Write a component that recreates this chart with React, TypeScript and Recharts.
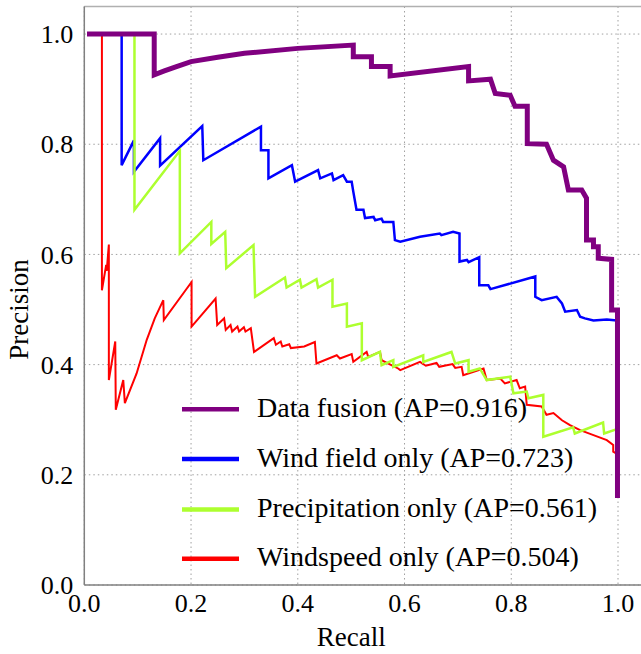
import React from 'react';
import { LineChart, Line, XAxis, YAxis, CartesianGrid, ReferenceLine } from 'recharts';

document.body.style.margin = '0';
document.body.style.overflow = 'hidden';

const seriesNames = [
  'Data fusion (AP=0.916)',
  'Wind field only (AP=0.723)',
  'Precipitation only (AP=0.561)',
  'Windspeed only (AP=0.504)',
];
const seriesColors = ['#800080', '#0000ff', '#adff2f', '#ff0000'];
const seriesWidths = [5, 2.5, 2.5, 2];
const axisTicks = [0, 0.2, 0.4, 0.6, 0.8, 1.0];

// Data fusion
const fusionRecall = [0.005, 0.131, 0.131, 0.15, 0.17, 0.2, 0.25, 0.3, 0.4, 0.504, 0.504, 0.538, 0.538, 0.573, 0.573, 0.72, 0.72, 0.761, 0.77, 0.798, 0.807, 0.83, 0.83, 0.866, 0.879, 0.898, 0.907, 0.932, 0.941, 0.941, 0.954, 0.954, 0.963, 0.963, 0.988, 0.988, 0.999, 0.999];
const fusionPrecision = [1.0, 1.0, 0.926, 0.933, 0.94, 0.95, 0.958, 0.965, 0.974, 0.98, 0.959, 0.959, 0.941, 0.941, 0.924, 0.941, 0.915, 0.918, 0.892, 0.889, 0.869, 0.869, 0.801, 0.8, 0.771, 0.759, 0.717, 0.717, 0.702, 0.626, 0.626, 0.614, 0.614, 0.593, 0.591, 0.499, 0.499, 0.158];

// Wind field only
const windRecall = [0.005, 0.07, 0.07, 0.093, 0.093, 0.142, 0.142, 0.221, 0.223, 0.331, 0.331, 0.345, 0.345, 0.389, 0.395, 0.438, 0.442, 0.464, 0.467, 0.485, 0.492, 0.501, 0.504, 0.51, 0.523, 0.526, 0.542, 0.545, 0.557, 0.56, 0.579, 0.582, 0.592, 0.629, 0.666, 0.669, 0.691, 0.703, 0.703, 0.717, 0.72, 0.74, 0.74, 0.757, 0.761, 0.845, 0.845, 0.857, 0.885, 0.895, 0.901, 0.923, 0.929, 0.938, 0.954, 0.979, 0.998];
const windPrecision = [1.0, 1.0, 0.762, 0.807, 0.75, 0.811, 0.761, 0.833, 0.771, 0.832, 0.789, 0.789, 0.738, 0.762, 0.732, 0.753, 0.738, 0.747, 0.735, 0.744, 0.732, 0.732, 0.714, 0.681, 0.681, 0.666, 0.668, 0.662, 0.665, 0.659, 0.659, 0.626, 0.623, 0.632, 0.638, 0.635, 0.641, 0.638, 0.587, 0.59, 0.586, 0.595, 0.544, 0.544, 0.537, 0.56, 0.523, 0.517, 0.523, 0.511, 0.496, 0.499, 0.487, 0.484, 0.48, 0.482, 0.48];

// Precipitation only
const precipRecall = [0.005, 0.094, 0.094, 0.179, 0.179, 0.238, 0.238, 0.264, 0.266, 0.317, 0.32, 0.376, 0.379, 0.404, 0.407, 0.435, 0.438, 0.465, 0.465, 0.492, 0.492, 0.52, 0.52, 0.554, 0.557, 0.579, 0.579, 0.635, 0.635, 0.688, 0.695, 0.72, 0.72, 0.741, 0.754, 0.798, 0.804, 0.829, 0.832, 0.86, 0.86, 0.916, 0.919, 0.972, 0.974, 0.998];
const precipPrecision = [1.0, 1.0, 0.681, 0.788, 0.602, 0.659, 0.619, 0.641, 0.575, 0.617, 0.523, 0.558, 0.54, 0.554, 0.54, 0.555, 0.54, 0.554, 0.505, 0.511, 0.469, 0.475, 0.408, 0.423, 0.399, 0.408, 0.396, 0.417, 0.405, 0.423, 0.402, 0.408, 0.387, 0.393, 0.372, 0.378, 0.348, 0.351, 0.339, 0.345, 0.269, 0.286, 0.275, 0.295, 0.275, 0.283];

// Windspeed only
const speedRecall = [0.005, 0.033, 0.033, 0.041, 0.042, 0.046, 0.046, 0.058, 0.059, 0.073, 0.076, 0.098, 0.117, 0.132, 0.148, 0.149, 0.201, 0.201, 0.246, 0.249, 0.262, 0.265, 0.274, 0.277, 0.287, 0.29, 0.299, 0.302, 0.312, 0.318, 0.355, 0.359, 0.368, 0.371, 0.384, 0.387, 0.412, 0.432, 0.435, 0.473, 0.479, 0.501, 0.504, 0.529, 0.532, 0.554, 0.557, 0.588, 0.592, 0.629, 0.64, 0.66, 0.665, 0.69, 0.695, 0.707, 0.71, 0.748, 0.754, 0.779, 0.788, 0.81, 0.816, 0.826, 0.829, 0.857, 0.866, 0.879, 0.895, 0.91, 0.929, 0.954, 0.979, 0.991, 0.991, 0.998];
const speedPrecision = [1.0, 1.0, 0.535, 0.581, 0.57, 0.618, 0.372, 0.442, 0.318, 0.372, 0.33, 0.384, 0.445, 0.484, 0.517, 0.481, 0.55, 0.469, 0.52, 0.472, 0.484, 0.463, 0.472, 0.46, 0.469, 0.46, 0.468, 0.46, 0.466, 0.423, 0.448, 0.436, 0.442, 0.433, 0.437, 0.43, 0.433, 0.441, 0.402, 0.417, 0.411, 0.419, 0.405, 0.423, 0.414, 0.423, 0.408, 0.393, 0.39, 0.405, 0.398, 0.403, 0.396, 0.401, 0.394, 0.396, 0.381, 0.393, 0.372, 0.375, 0.366, 0.372, 0.357, 0.36, 0.327, 0.324, 0.309, 0.312, 0.299, 0.29, 0.281, 0.272, 0.263, 0.254, 0.242, 0.238];

const zip = (recall: number[], precision: number[]) =>
  recall.map((r, i) => ({ r, p: precision[i] }));

const seriesData = [
  zip(fusionRecall, fusionPrecision),
  zip(windRecall, windPrecision),
  zip(precipRecall, precipPrecision),
  zip(speedRecall, speedPrecision),
];

// bottom to top drawing order
const drawOrder = [3, 1, 2, 0];

const FONT = 'Liberation Serif, Times New Roman, serif';

const XTick = (props: any) => (
  <text x={props.x} y={props.y + 27} textAnchor="middle" fontFamily={FONT} fontSize={26} fill="#000">
    {Number(props.payload.value).toFixed(1)}
  </text>
);

const YTick = (props: any) => (
  <text x={props.x - 11} y={props.y} dy="0.35em" textAnchor="end" fontFamily={FONT} fontSize={26} fill="#000">
    {Number(props.payload.value).toFixed(1)}
  </text>
);

const XTitle = (props: any) => {
  const vb = props.viewBox || { x: 0, y: 0, width: 0 };
  return (
    <text x={vb.x + (vb.width * 0.5) / 1.05} y={vb.y + 61} textAnchor="middle" fontFamily={FONT} fontSize={27} fill="#000">
      Recall
    </text>
  );
};

const YTitle = (props: any) => {
  const vb = props.viewBox || { x: 0, y: 0, height: 0 };
  const cx = 28;
  const cy = vb.y + vb.height * (1 - 0.5 / 1.05);
  return (
    <text x={cx} y={cy} transform={`rotate(-90, ${cx}, ${cy})`} textAnchor="middle" fontFamily={FONT} fontSize={27} fill="#000">
      Precision
    </text>
  );
};

const legendRows = [409.3, 459, 509.5, 558.7];

const App: React.FC = () => {
  return (
    <div style={{ position: 'relative', width: 641, height: 654, overflow: 'hidden', background: '#fff' }}>
      <LineChart width={660} height={654} margin={{ top: 6.5, right: 15.3, bottom: 0, left: 0 }}>
        <CartesianGrid stroke="#a0a0a0" strokeDasharray="1.5 3" strokeWidth={1} />
        <XAxis
          type="number"
          dataKey="r"
          domain={[0, 1.05]}
          ticks={axisTicks}
          allowDataOverflow
          height={69}
          tickSize={0}
          tickMargin={0}
          tickLine={false}
          axisLine={{ stroke: '#808080', strokeWidth: 1.5 }}
          tick={<XTick />}
          label={<XTitle />}
        />
        <YAxis
          type="number"
          dataKey="p"
          domain={[0, 1.05]}
          ticks={axisTicks}
          allowDataOverflow
          width={84.3}
          tickSize={0}
          tickMargin={0}
          tickLine={false}
          axisLine={{ stroke: '#808080', strokeWidth: 1.5 }}
          tick={<YTick />}
          label={<YTitle />}
        />
        <ReferenceLine y={1.05} stroke="#b0b0b0" strokeWidth={1.5} />
        {drawOrder.map((i) => (
          <Line
            key={seriesNames[i]}
            data={seriesData[i]}
            dataKey="p"
            type="linear"
            stroke={seriesColors[i]}
            strokeWidth={seriesWidths[i]}
            dot={false}
            activeDot={false}
            isAnimationActive={false}
          />
        ))}
      </LineChart>
      <svg width={641} height={654} style={{ position: 'absolute', left: 0, top: 0, pointerEvents: 'none' }}>
        {seriesNames.map((name, i) => (
          <g key={name}>
            <line x1={182} x2={239} y1={legendRows[i]} y2={legendRows[i]} stroke={seriesColors[i]} strokeWidth={4.5} />
            <text x={257} y={legendRows[i] + 7.5} fontFamily={FONT} fontSize={28} fill="#000">
              {name}
            </text>
          </g>
        ))}
      </svg>
    </div>
  );
};

export default App;
